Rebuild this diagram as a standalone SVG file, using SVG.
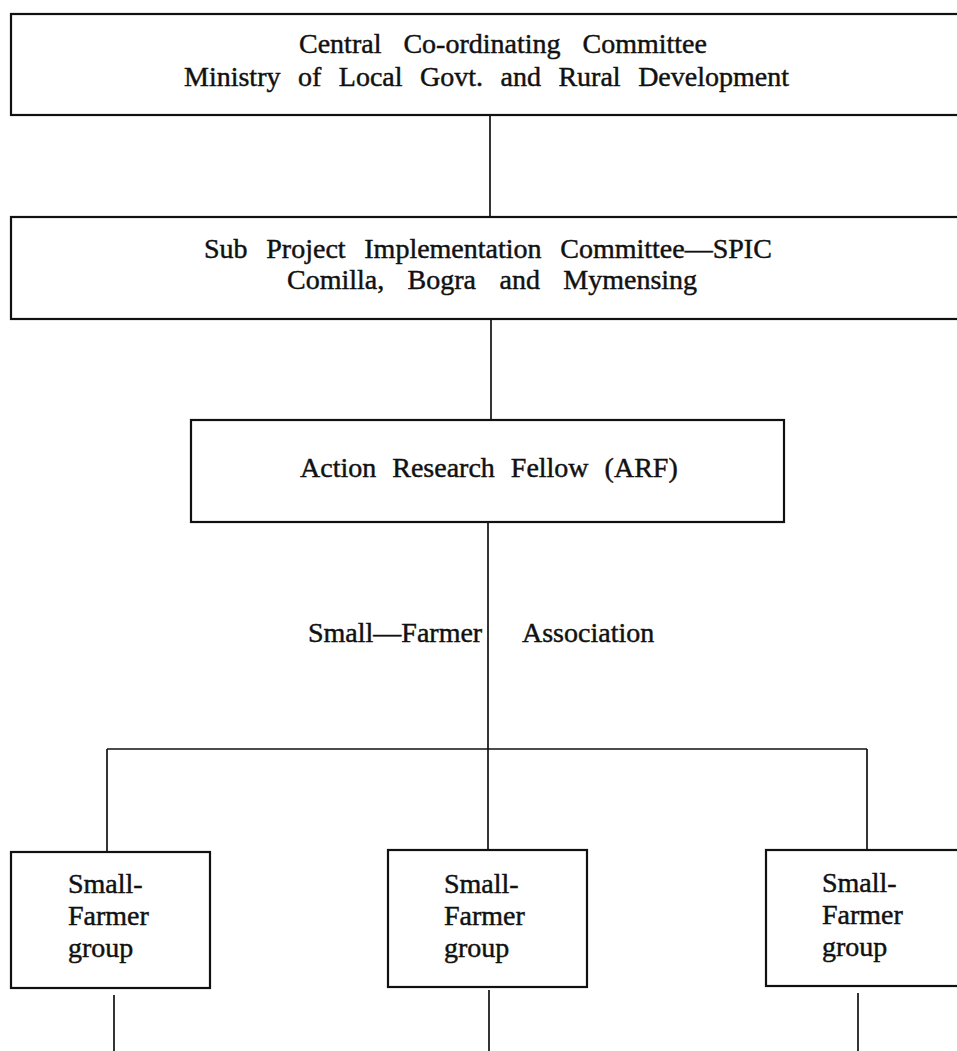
<svg xmlns="http://www.w3.org/2000/svg" width="957" height="1051" viewBox="0 0 957 1051">
<style>
.box{fill:#fff;stroke:#111;stroke-width:2.2}
.ln{stroke:#111;stroke-width:1.7;fill:none}
text{font-family:"Liberation Serif","Times New Roman",serif;font-size:28px;fill:#111;stroke:#111;stroke-width:0.45}
</style>
<rect width="957" height="1051" fill="#fff"/>
<g id="connectors">
<line class="ln" x1="490" y1="115" x2="490" y2="217"/>
<line class="ln" x1="491" y1="319" x2="491" y2="420"/>
<line class="ln" x1="488" y1="522" x2="488" y2="749"/>
<line class="ln" x1="107" y1="749" x2="867" y2="749"/>
<line class="ln" x1="107" y1="749" x2="107" y2="852"/>
<line class="ln" x1="488" y1="749" x2="488" y2="850"/>
<line class="ln" x1="867" y1="749" x2="867" y2="850"/>
<line class="ln" x1="114" y1="995" x2="114" y2="1051"/>
<line class="ln" x1="489" y1="990" x2="489" y2="1051"/>
<line class="ln" x1="858" y1="993" x2="858" y2="1051"/>
</g>
<g id="central">
<rect class="box" x="11" y="14" width="960" height="101"/>
<text x="299" y="53" word-spacing="15">Central Co-ordinating Committee</text>
<text x="184" y="86" word-spacing="10.5">Ministry of Local Govt. and Rural Development</text>
</g>
<g id="spic">
<rect class="box" x="11" y="217" width="960" height="102"/>
<text x="204" y="258" word-spacing="11.7">Sub Project Implementation Committee—SPIC</text>
<text x="287" y="289" word-spacing="16.4">Comilla, Bogra and Mymensing</text>
</g>
<g id="arf">
<rect class="box" x="191" y="420" width="593" height="102"/>
<text x="300" y="477" word-spacing="9">Action Research Fellow (ARF)</text>
</g>
<g id="association">
<text x="308" y="642">Small—Farmer</text>
<text x="522" y="642">Association</text>
</g>
<g id="group1">
<rect class="box" x="11" y="852" width="199" height="136"/>
<text x="68" y="893">Small-</text>
<text x="68" y="925">Farmer</text>
<text x="68" y="957">group</text>
</g>
<g id="group2">
<rect class="box" x="388" y="850" width="199" height="137"/>
<text x="444" y="893">Small-</text>
<text x="444" y="925">Farmer</text>
<text x="444" y="957">group</text>
</g>
<g id="group3">
<rect class="box" x="766" y="850" width="200" height="136"/>
<text x="822" y="892">Small-</text>
<text x="822" y="924">Farmer</text>
<text x="822" y="956">group</text>
</g>
</svg>
